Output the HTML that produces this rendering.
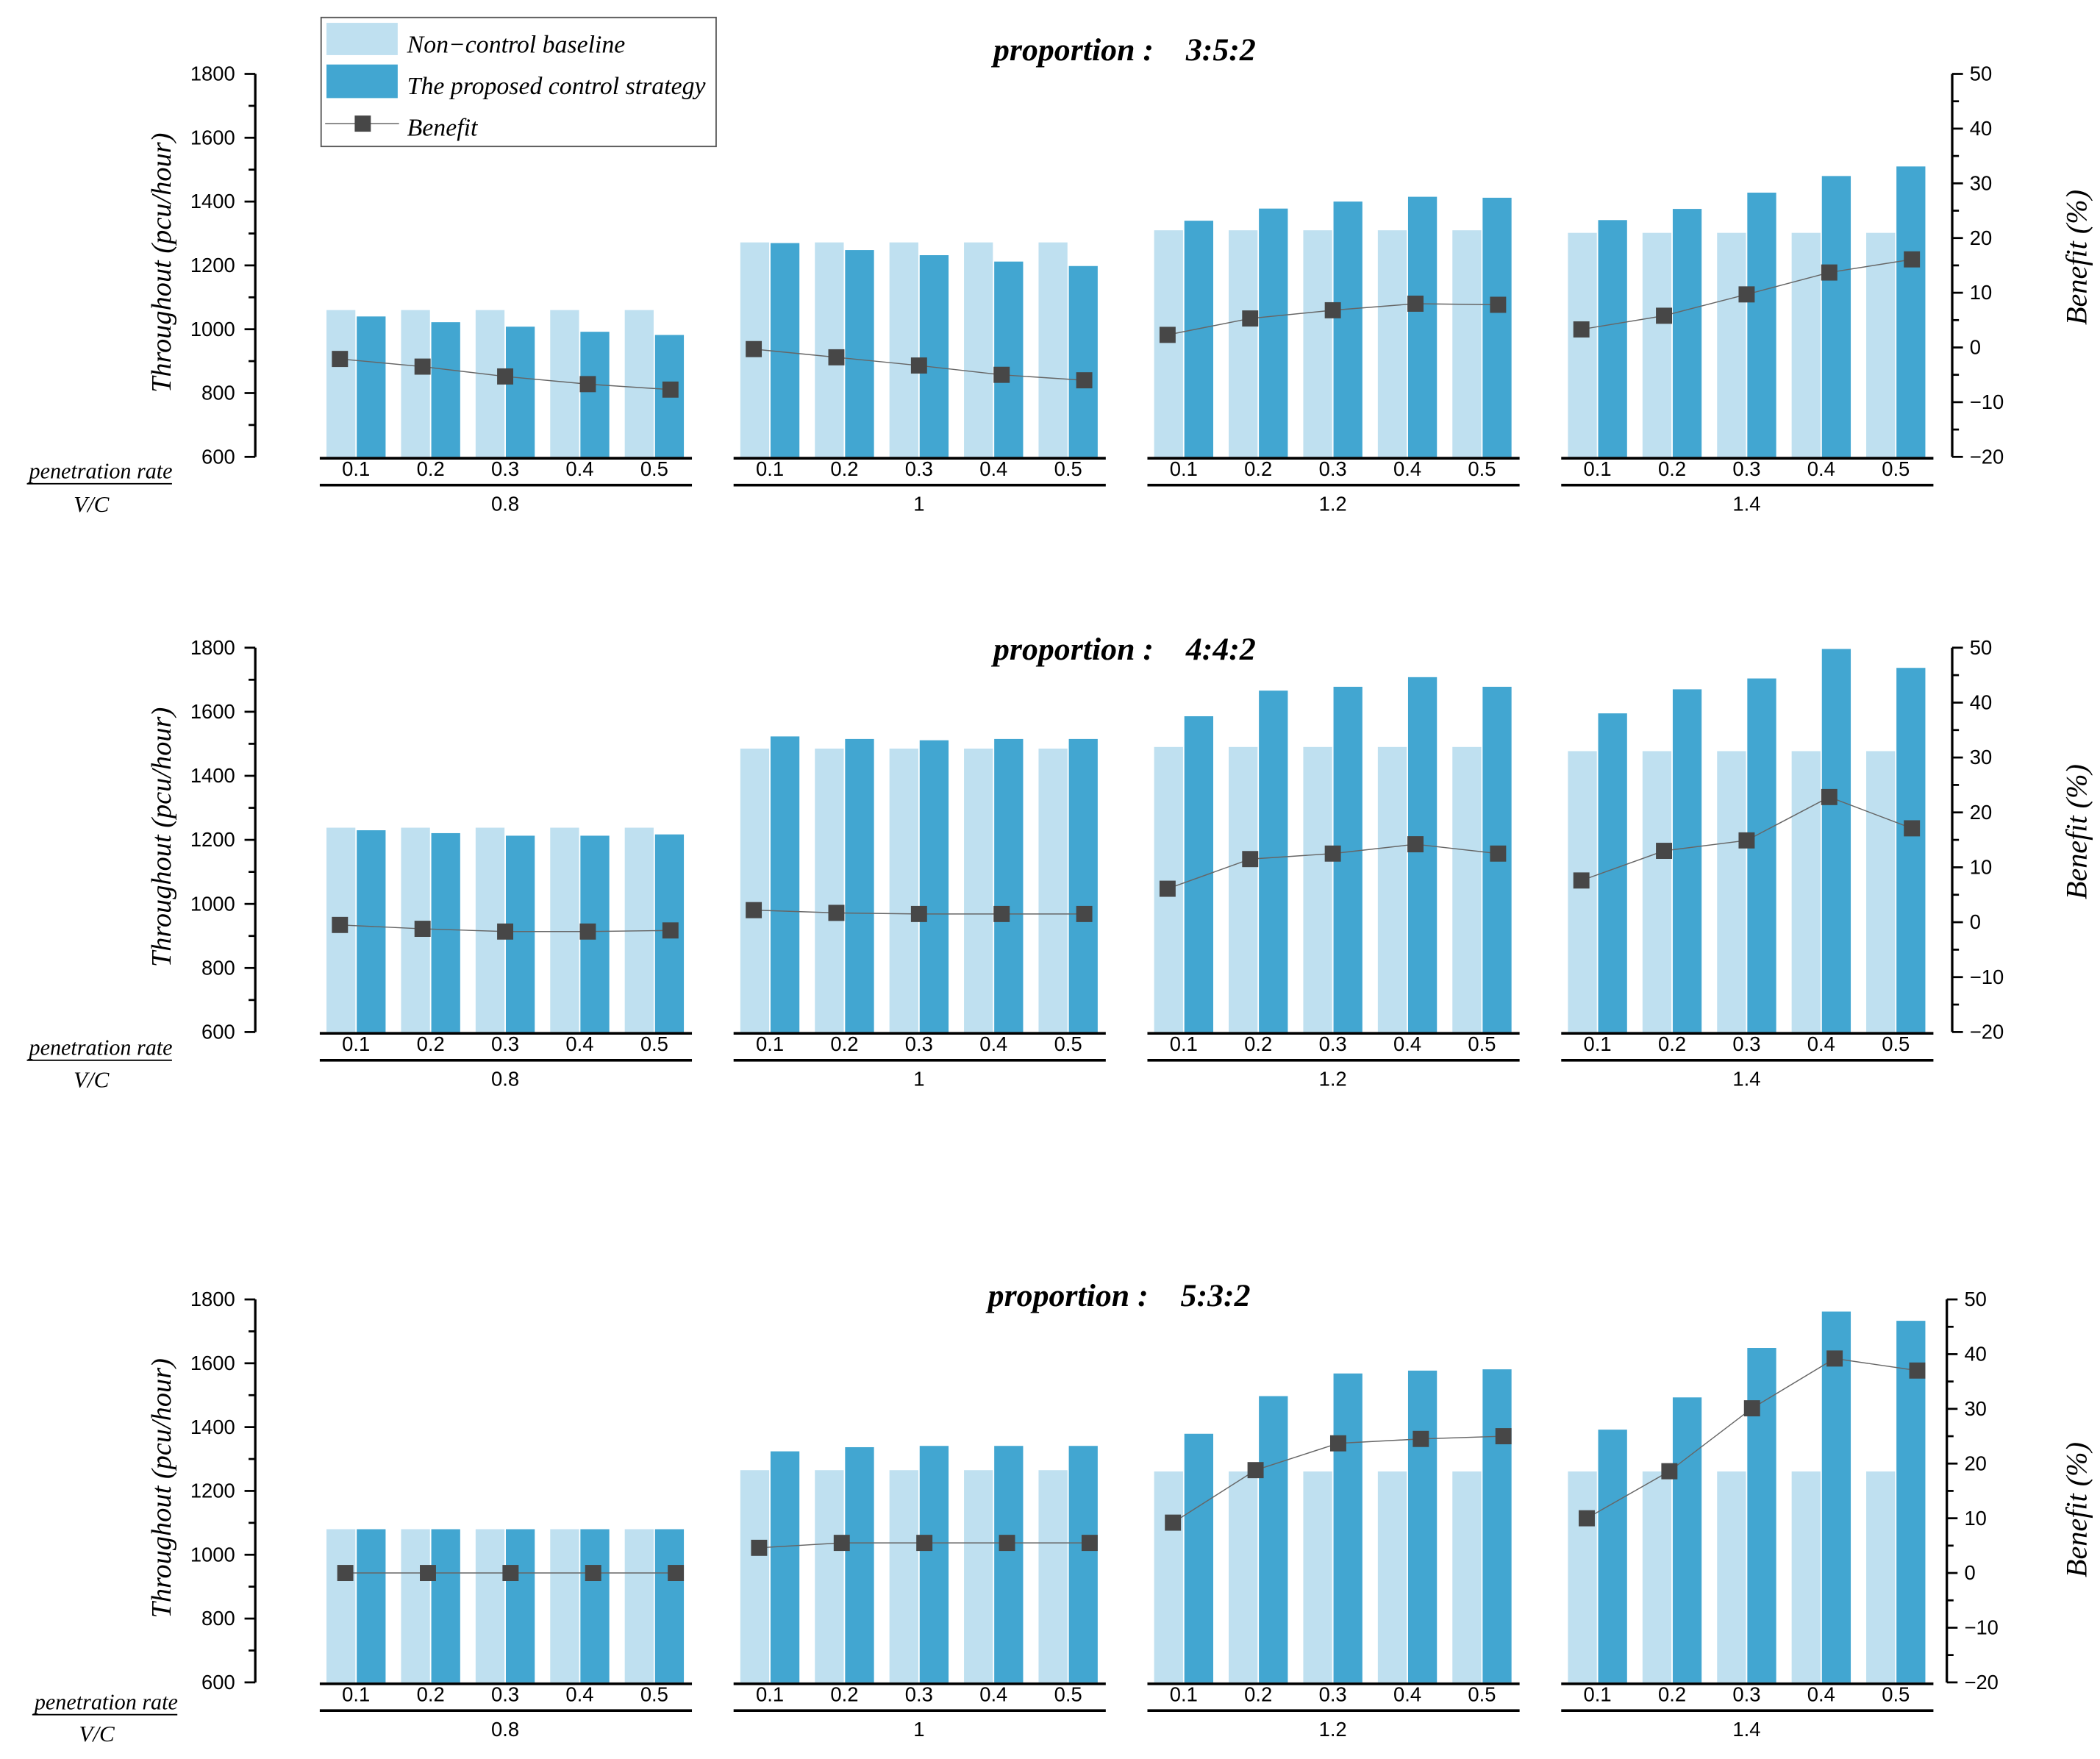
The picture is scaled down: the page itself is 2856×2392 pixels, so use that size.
<!DOCTYPE html>
<html><head><meta charset="utf-8"><style>
html,body{margin:0;padding:0;background:#fff;}
svg{display:block;}
.tk{font-family:"Liberation Sans",sans-serif;font-size:15px;fill:#000;}
.it{font-family:"Liberation Serif",serif;font-style:italic;fill:#000;}
</style></head><body>
<svg id="chart" width="2856" height="2392" viewBox="0 0 1563 1309" preserveAspectRatio="none" xmlns="http://www.w3.org/2000/svg">
<g id="legend">
<rect x="239" y="13" width="294" height="96" fill="#fff" stroke="#555" stroke-width="1"/>
<rect x="243" y="17" width="53" height="24" fill="#bfe0f0"/>
<text class="it" x="303" y="39" font-size="18.5">Non−control baseline</text>
<rect x="243" y="48" width="53" height="25" fill="#42a6d1"/>
<text class="it" x="303" y="70" font-size="18.5">The proposed control strategy</text>
<line x1="242" y1="92" x2="297" y2="92" stroke="#666" stroke-width="0.8"/>
<rect x="264" y="86" width="12" height="12" fill="#474747"/>
<text class="it" x="303" y="101" font-size="18.5">Benefit</text>
</g>
</svg>
<script>
const vcCategories = ["0.8","1","1.2","1.4"];
const penCategories = ["0.1","0.2","0.3","0.4","0.5"];
const leftTicks = [600,800,1000,1200,1400,1600,1800];
const rightTicks = [-20,-10,0,10,20,30,40,50];
const proportionLabels = ["3:5:2","4:4:2","5:3:2"];

const baseline352 = [[1060,1060,1060,1060,1060],[1272,1272,1272,1272,1272],[1310,1310,1310,1310,1310],[1302,1302,1302,1302,1302]];
const proposed352 = [[1040,1022,1008,992,982],[1270,1248,1232,1212,1198],[1340,1378,1400,1415,1412],[1342,1377,1428,1480,1510]];
const benefit352 = [[-2.1,-3.5,-5.3,-6.7,-7.7],[-0.3,-1.8,-3.3,-5.0,-6.0],[2.3,5.3,6.8,8.0,7.8],[3.3,5.8,9.7,13.7,16.1]];

const baseline442 = [[1238,1238,1238,1238,1238],[1485,1485,1485,1485,1485],[1490,1490,1490,1490,1490],[1477,1477,1477,1477,1477]];
const proposed442 = [[1230,1221,1213,1213,1217],[1523,1515,1511,1515,1515],[1586,1666,1678,1708,1678],[1595,1670,1704,1796,1737]];
const benefit442 = [[-0.5,-1.2,-1.7,-1.7,-1.5],[2.2,1.7,1.5,1.5,1.5],[6.1,11.5,12.5,14.2,12.5],[7.6,13.0,14.9,22.8,17.1]];

const baseline532 = [[1080,1080,1080,1080,1080],[1265,1265,1265,1265,1265],[1261,1261,1261,1261,1261],[1261,1261,1261,1261,1261]];
const proposed532 = [[1080,1080,1080,1080,1080],[1324,1337,1341,1341,1341],[1379,1497,1568,1577,1581],[1392,1493,1648,1762,1733]];
const benefit532 = [[0,0,0,0,0],[4.6,5.5,5.5,5.5,5.5],[9.2,18.8,23.7,24.5,25.0],[10.0,18.6,30.1,39.2,37.0]];

const NS="http://www.w3.org/2000/svg";
const svg=document.getElementById('chart');
function mk(tag,attrs,parent,txt){const e=document.createElementNS(NS,tag);for(const k in attrs)e.setAttribute(k,attrs[k]);if(txt!==undefined)e.textContent=txt;(parent||svg).appendChild(e);return e;}

const panels=[
 {top:55,bot:340,rx:1453,title:37,tx:837,base:baseline352,prop:proposed352,ben:benefit352,pl:356,vl:381,px:75,mo:0},
 {top:482,bot:768,rx:1453,title:483,tx:837,base:baseline442,prop:proposed442,ben:benefit442,pl:785,vl:809,px:75,mo:0},
 {top:967,bot:1252,rx:1449,title:964,tx:833,base:baseline532,prop:proposed532,ben:benefit532,pl:1272,vl:1296,px:79,mo:4}
];
const groupStarts=[238,546,854,1162];

panels.forEach((p,pi)=>{
 const g=mk('g',{});
 
 
 const yL=v=>p.bot-(v-600)/1200*(p.bot-p.top);
 const yR=v=>p.bot-(v+20)/70*(p.bot-p.top);
 const xc=(gi,ci)=>groupStarts[gi]+27+ci*55.5;
 const xm=(gi,ci)=>groupStarts[gi]+15+p.mo+ci*61.5;
 vcCategories.forEach((vc,gi)=>{
  penCategories.forEach((pc,ci)=>{
   const c=xc(gi,ci);
   const b=mk('rect',{x:c-22,y:yL(p.base[gi][ci]),width:21.5,height:p.bot-yL(p.base[gi][ci]),fill:'#bfe0f0'},g);
   
   
   const d=mk('rect',{x:c+0.5,y:yL(p.prop[gi][ci]),width:21.5,height:p.bot-yL(p.prop[gi][ci]),fill:'#42a6d1'},g);
   
   
  });
  const pts=penCategories.map((pc,ci)=>xm(gi,ci)+','+yR(p.ben[gi][ci])).join(' ');
  const l=mk('polyline',{points:pts,fill:'none',stroke:'#666','stroke-width':0.8},g);
  
  
  penCategories.forEach((pc,ci)=>{
   const m=mk('rect',{x:xm(gi,ci)-6,y:yR(p.ben[gi][ci])-6,width:12,height:12,fill:'#474747'},g);
   
   
  });
  const gs=groupStarts[gi];
  mk('line',{x1:gs,y1:p.bot+1,x2:gs+277,y2:p.bot+1,stroke:'#000','stroke-width':2},g);
  mk('line',{x1:gs,y1:p.bot+21,x2:gs+277,y2:p.bot+21,stroke:'#000','stroke-width':2},g);
  penCategories.forEach((pc,ci)=>{
   const t=mk('text',{x:xc(gi,ci),y:p.bot+14,'text-anchor':'middle',class:'tk','font-size':13},g,pc);
   
   
  });
  const v=mk('text',{x:gs+138,y:p.bot+40,'text-anchor':'middle',class:'tk','font-size':16},g,vc);
  
  
 });
 mk('line',{x1:190,y1:p.top,x2:190,y2:p.bot,stroke:'#000','stroke-width':1.8},g);
 for(let v=600;v<=1800;v+=100){
  const maj=v%200===0;
  mk('line',{x1:maj?182:185,y1:yL(v),x2:190,y2:yL(v),stroke:'#000','stroke-width':1.5},g);
 }
 leftTicks.forEach(v=>{
  const t=mk('text',{x:175,y:yL(v)+5,'text-anchor':'end',class:'tk'},g,v);
  
  
 });
 mk('line',{x1:p.rx,y1:p.top,x2:p.rx,y2:p.bot,stroke:'#000','stroke-width':1.8},g);
 for(let v=-20;v<=50;v+=5){
  const maj=v%10===0;
  mk('line',{x1:p.rx,y1:yR(v),x2:p.rx+(maj?8:5),y2:yR(v),stroke:'#000','stroke-width':1.5},g);
 }
 rightTicks.forEach(v=>{
  const t=mk('text',{x:p.rx+13,y:yR(v)+5,class:'tk'},g,v<0?'−'+(-v):v);
  
  
 });
 const cy=(p.top+p.bot)/2;
 const yt=mk('text',{x:0,y:0,class:'it','font-size':21,'text-anchor':'middle',transform:'translate(127,'+(cy-2)+') rotate(-90)'},g,'Throughout (pcu/hour)');
 
 
 const rt=mk('text',{x:0,y:0,class:'it','font-size':22,'text-anchor':'middle',transform:'translate(1553,'+(cy-6+(pi==2?20:0))+') rotate(-90)'},g,'Benefit (%)');
 
 
 const ti=mk('text',{x:p.tx,y:p.title+8,class:'it','font-size':24,'font-weight':'bold','text-anchor':'middle'},g,'proportion :    '+proportionLabels[pi]);
 ti.setAttribute('xml:space','preserve');
 ti.style.whiteSpace='pre';
 
 
 const pr=mk('text',{x:p.px,y:p.pl,class:'it','font-size':16.5,'text-anchor':'middle'},g,'penetration rate');
 
 
 mk('line',{x1:p.px-55,y1:p.pl+4,x2:p.px+53,y2:p.pl+4,stroke:'#000','stroke-width':1},g);
 const vl=mk('text',{x:p.px-7,y:p.vl,class:'it','font-size':17,'text-anchor':'middle'},g,'V/C');
 
 
});
svg.appendChild(document.getElementById('legend'));
</script>
</body></html>
